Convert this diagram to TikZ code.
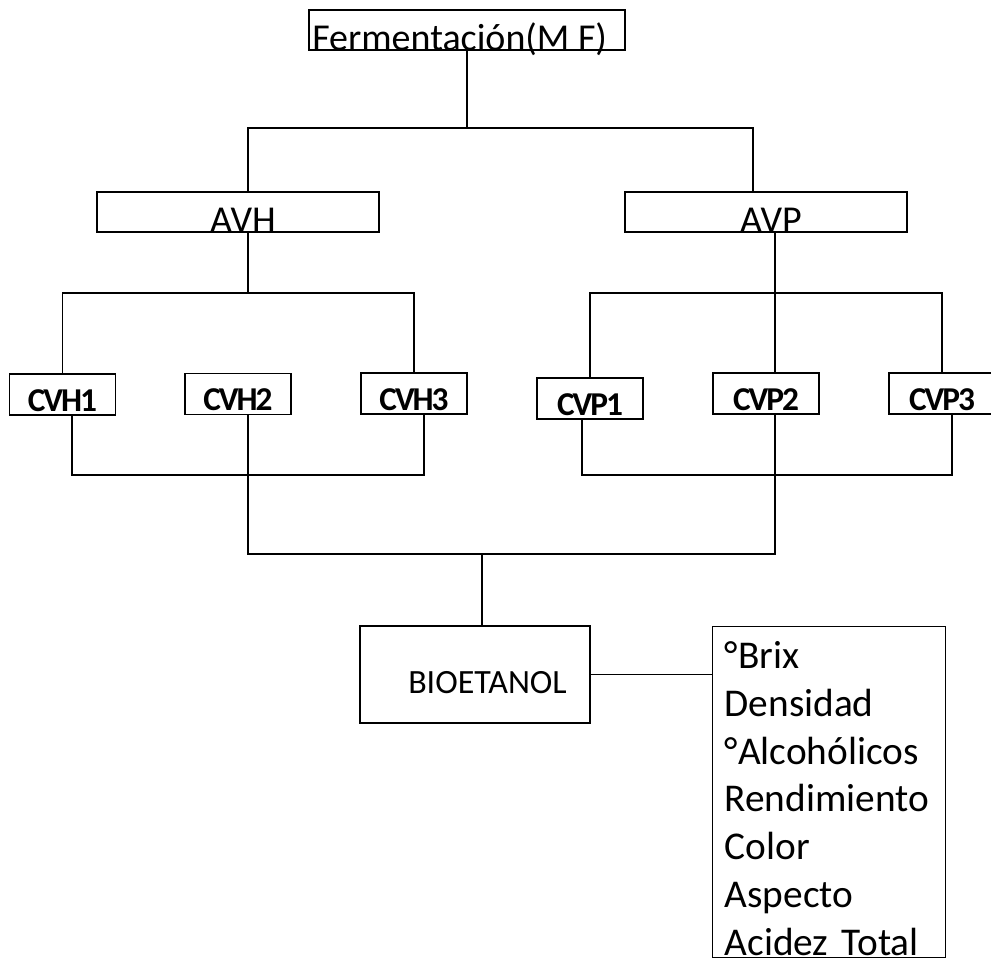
\documentclass[tikz,border=0pt]{standalone}
\usepackage{fontspec}
\setmainfont{Carlito}
\newfontfamily\cvfont[LetterSpace=-6]{Carlito}
\usetikzlibrary{calc}

\tikzset{
  bigbox/.style={draw, line width=1pt, inner sep=0pt, text height=30pt, text depth=0pt,
                 font=\fontsize{28.5}{34}\selectfont},
  cvbox/.style={draw, line width=1pt, inner sep=0pt, minimum width=79.5pt,
                text height=27.75pt, text depth=3pt, font=\cvfont\fontsize{25}{30}\selectfont\bfseries},
  biobox/.style={draw, line width=1pt, inner sep=0pt, minimum width=172.5pt,
                 text height=50.25pt, text depth=22.5pt, font=\fontsize{25.5}{30}\selectfont},
  listbox/.style={draw, line width=1pt, inner xsep=9pt, inner ysep=0pt, text width=156.75pt,
                  align=left, text height=31.5pt, text depth=216.75pt,
                  font=\fontsize{29.5}{35.8}\selectfont},
  wire/.style={line width=1pt}
}

\begin{document}
\begin{tikzpicture}[x=0.75pt, y=-0.75pt]
\useasboundingbox (0,0) rectangle (991,960);

\node[bigbox, minimum width=237pt] (ferm) at (467,30) {Fermentación(M F)\hspace*{11pt}};
\node[bigbox, minimum width=211.5pt] (avh) at (238,212) {\hspace*{7.5pt}AVH};
\node[bigbox, minimum width=211.5pt] (avp) at (766,212) {\hspace*{7.5pt}AVP};

\node[cvbox] (cvh1) at (62.5,394.5) {CVH1};
\node[cvbox] (cvh2) at (238,394) {CVH2};
\node[cvbox] (cvh3) at (414,393.5) {CVH3};
\node[cvbox] (cvp1) at (590,398.5) {CVP1};
\node[cvbox] (cvp2) at (766,393.5) {CVP2};
\node[cvbox] (cvp3) at (942,393.5) {CVP3};

\node[biobox] (bio) at (475,674.5) {\hspace*{18.75pt}BIOETANOL};
\node[listbox, anchor=north west] (props) at (712,626)
  {°Brix\\Densidad\\°Alcohólicos\\Rendimiento\\Color\\Aspecto\\Acidez Total};

\coordinate (top) at (467,128);
\coordinate (hjoin) at (248,293);
\coordinate (pjoin) at (775,293);
\coordinate (hlow) at (248,475);
\coordinate (plow) at (775,475);
\coordinate (mid) at (482,554);

\draw[wire] (ferm.south) -- (top);
\draw[wire] ($(avh.north)+(10,0)$) |- (top) -| ($(avp.north)+(-13,0)$);
\draw[wire] ($(avh.south)+(10,0)$) -- (hjoin);
\draw[wire] (cvh1.north) |- (hjoin) -| (cvh3.north);
\draw[wire] ($(avp.south)+(9,0)$) -- ($(cvp2.north)+(9,0)$);
\draw[wire] (cvp1.north) |- (pjoin) -| (cvp3.north);
\draw[wire] ($(cvh1.south)+(9.5,0)$) |- (hlow) -| ($(cvh3.south)+(10,0)$);
\draw[wire] ($(cvp1.south)+(-8,0)$) |- (plow) -| ($(cvp3.south)+(10,0)$);
\draw[wire] ($(cvh2.south)+(10,0)$) |- (mid) -| ($(cvp2.south)+(9,0)$);
\draw[wire] (mid) -- ($(bio.north)+(7,0)$);
\draw[wire] (bio.east) -- (bio.east -| props.west);
\end{tikzpicture}
\end{document}
